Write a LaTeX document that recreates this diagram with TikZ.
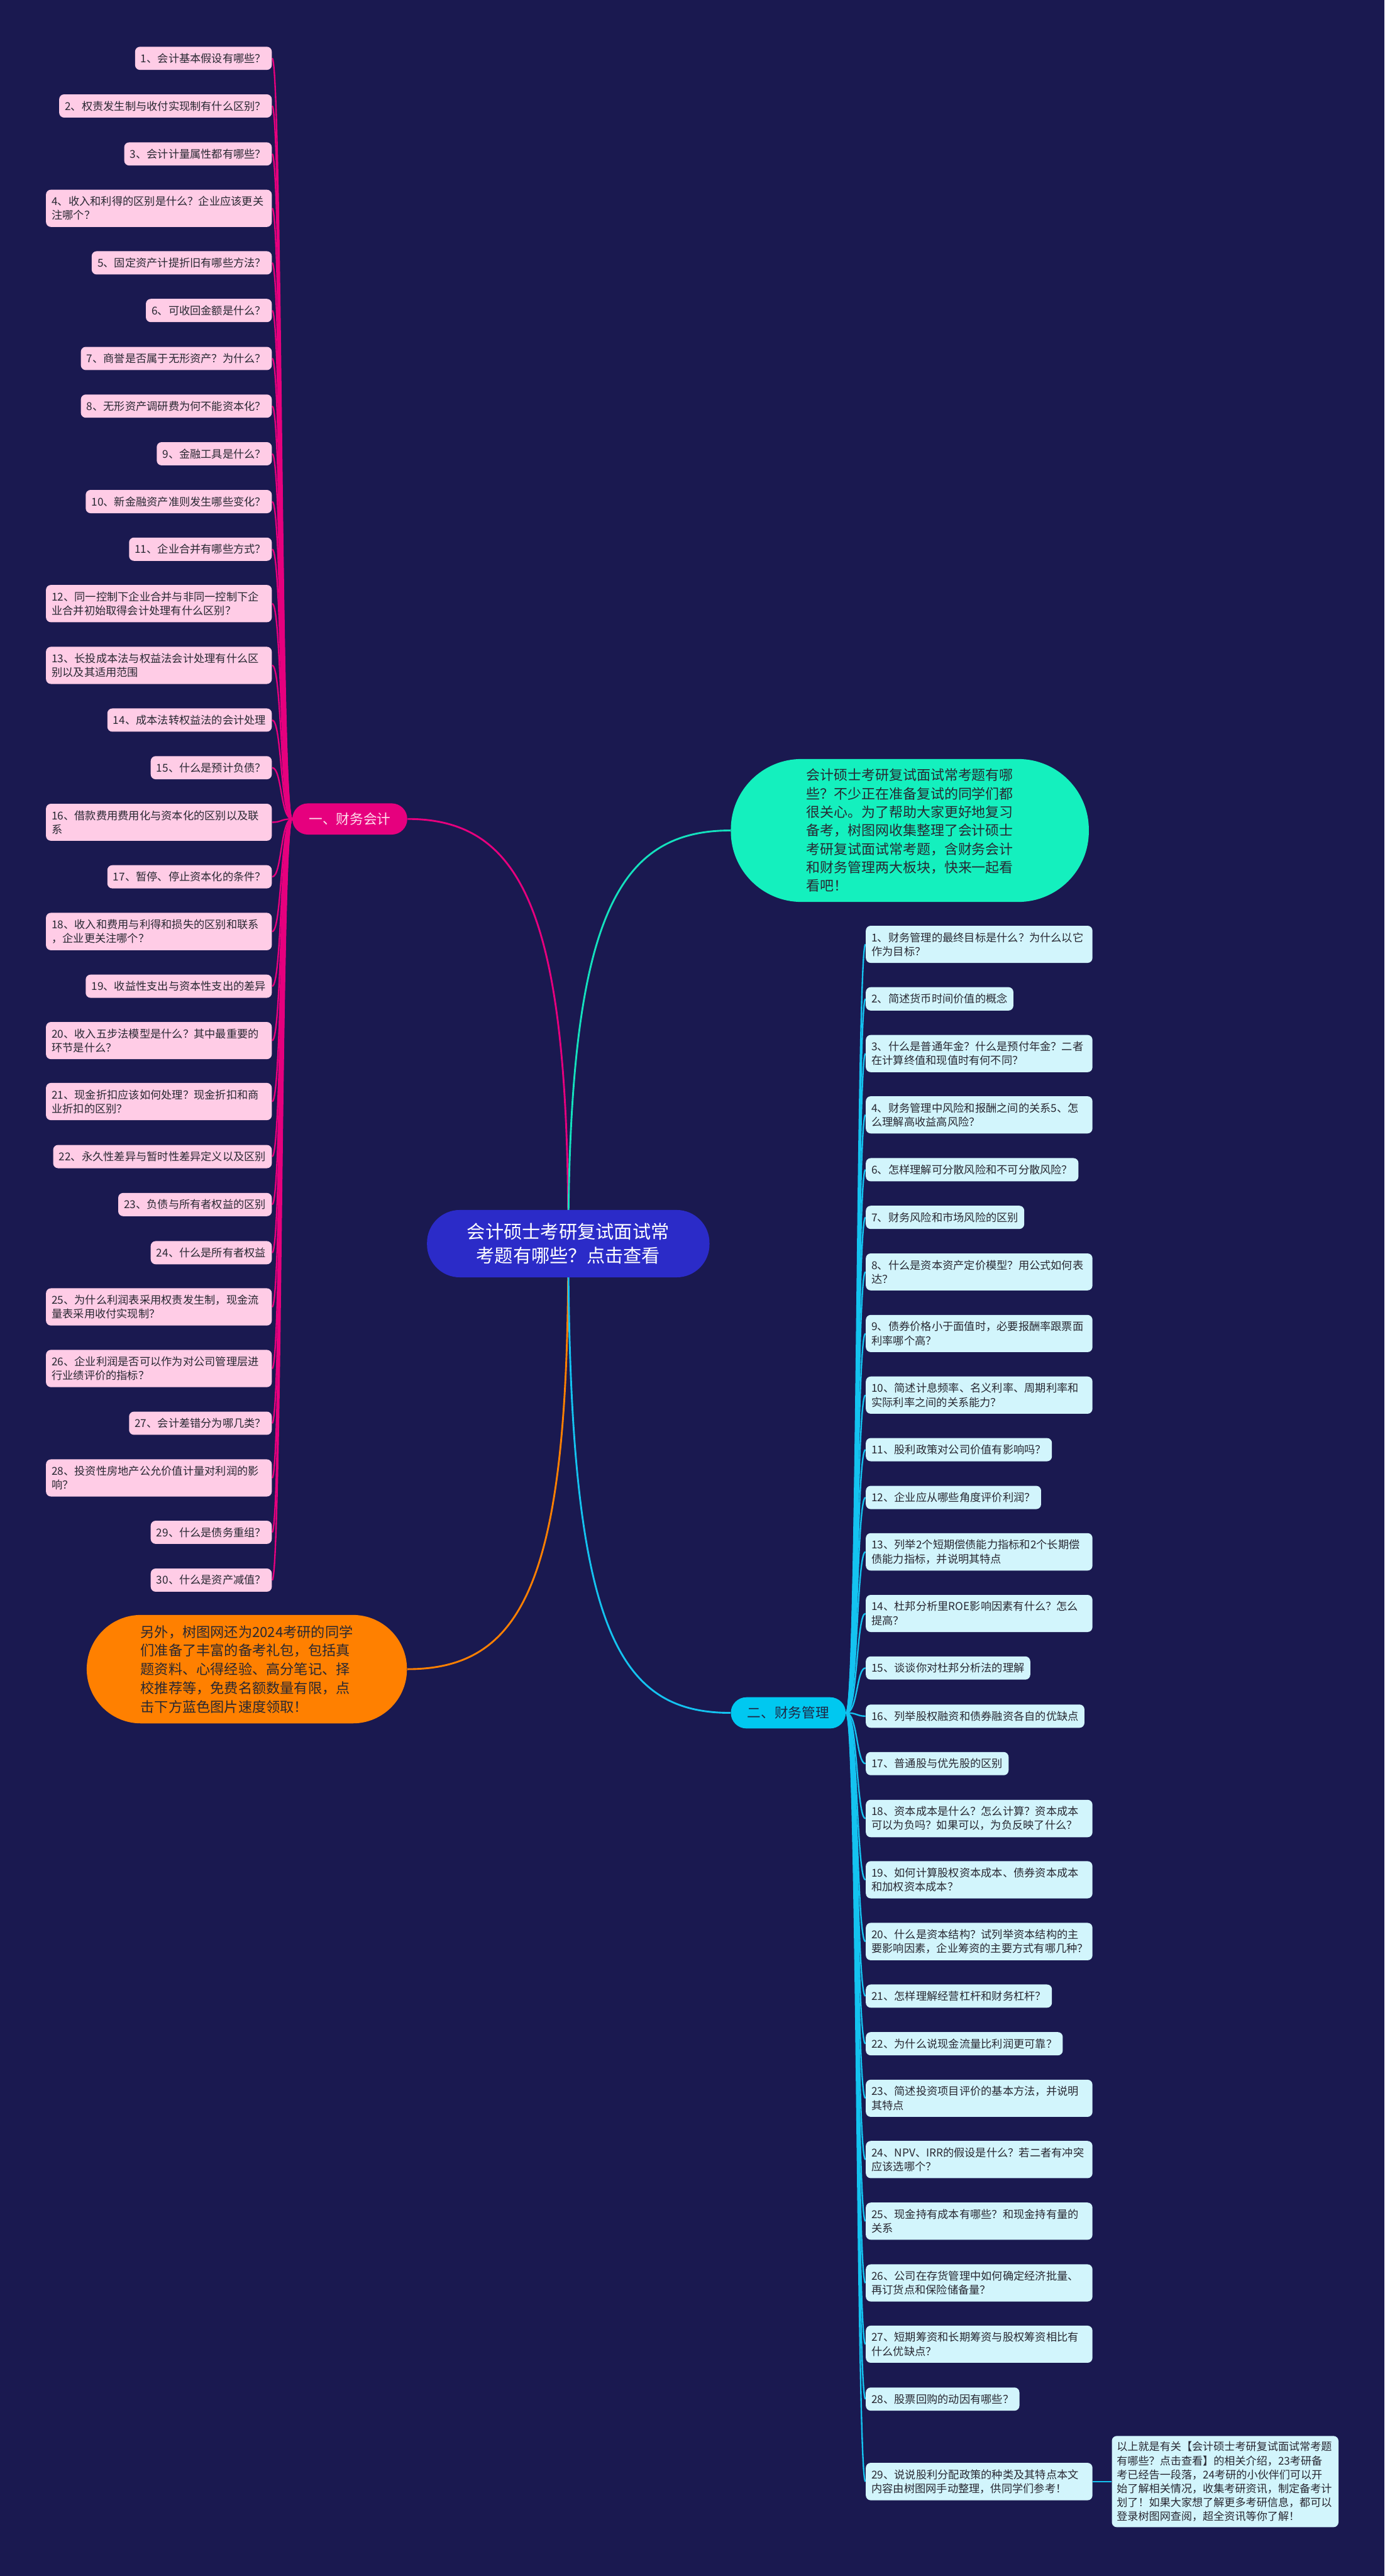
\documentclass[tikz,border=0pt]{standalone}
\usepackage{fontspec}
\setmainfont{Noto Sans CJK SC}
\definecolor{bgc}{RGB}{26,25,80}
\definecolor{pinkline}{RGB}{230,0,126}
\definecolor{pinkbox}{RGB}{255,204,230}
\definecolor{cyanline}{RGB}{20,195,240}
\definecolor{cyanfill}{RGB}{0,200,240}
\definecolor{cyanbox}{RGB}{210,245,252}
\definecolor{greenfill}{RGB}{20,240,190}
\definecolor{greenline}{RGB}{20,225,190}
\definecolor{orangefill}{RGB}{255,128,0}
\definecolor{centerfill}{RGB}{43,43,200}
\definecolor{itemtext}{RGB}{40,40,50}
\definecolor{darknavy}{RGB}{30,40,70}
\definecolor{lightpink}{RGB}{255,225,238}
\pgfdeclarelayer{edges}
\pgfsetlayers{edges,main}
\tikzset{
  litem/.style={fill=pinkbox, text=itemtext, rounded corners=3pt, inner xsep=3.5pt, inner ysep=4pt, font=\fontsize{6.6}{8.5}\selectfont, align=left, anchor=east},
  litemtwo/.style={litem, text width=130.5pt},
  ritem/.style={fill=cyanbox, text=itemtext, rounded corners=3pt, inner xsep=3.5pt, inner ysep=4pt, font=\fontsize{6.6}{8.5}\selectfont, align=left, anchor=west},
  ritemtwo/.style={ritem, text width=131pt},
  pinkedge/.style={draw=pinkline, line width=0.9pt},
  cyanedge/.style={draw=cyanline, line width=0.9pt},
  branchbox/.style={minimum width=70pt, minimum height=19pt, rounded corners=9.5pt, inner sep=0pt, font=\fontsize{8.3}{10}\selectfont},
}
\begin{document}
\begin{tikzpicture}[x=1pt,y=-1pt]
\useasboundingbox (0,0) rectangle (843,1568);
% central
\node[fill=centerfill, text=white, minimum width=172pt, minimum height=41pt, rounded corners=20pt, align=center, font=\fontsize{11.2}{14.3}\selectfont, inner sep=0pt] (c) at (346,757) {会计硕士考研复试面试常\\考题有哪些？点击查看};
% branches
\node[branchbox, fill=pinkline, text=lightpink] (b1) at (213,498.5) {一、财务会计};
\node[branchbox, fill=cyanfill, text=darknavy] (b2) at (480,1042.6) {二、财务管理};
% green intro
\node[fill=greenfill, text=itemtext, minimum width=218pt, minimum height=87pt, rounded corners=43pt, align=left, font=\fontsize{8.4}{11.25}\selectfont, inner sep=0pt] (g) at (554,505.5) {会计硕士考研复试面试常考题有哪\\些？不少正在准备复试的同学们都\\很关心。为了帮助大家更好地复习\\备考，树图网收集整理了会计硕士\\考研复试面试常考题，含财务会计\\和财务管理两大板块，快来一起看\\看吧！};
% orange
\node[fill=orangefill, text=itemtext, minimum width=195pt, minimum height=66pt, rounded corners=33pt, align=left, font=\fontsize{8.5}{11.4}\selectfont, inner sep=0pt] (o) at (150.3,1016) {另外，树图网还为2024考研的同学\\们准备了丰富的备考礼包，包括真\\题资料、心得经验、高分笔记、择\\校推荐等，免费名额数量有限，点\\击下方蓝色图片速度领取！};
% left items
\node[litem] (L1) at (165.7,35.5) {1、会计基本假设有哪些？};
\node[litem] (L2) at (165.7,64.5) {2、权责发生制与收付实现制有什么区别？};
\node[litem] (L3) at (165.7,93.7) {3、会计计量属性都有哪些？};
\node[litemtwo] (L4) at (165.7,126.8) {4、收入和利得的区别是什么？企业应该更关\\注哪个？};
\node[litem] (L5) at (165.7,160) {5、固定资产计提折旧有哪些方法？};
\node[litem] (L6) at (165.7,189) {6、可收回金额是什么？};
\node[litem] (L7) at (165.7,218.2) {7、商誉是否属于无形资产？为什么？};
\node[litem] (L8) at (165.7,247.2) {8、无形资产调研费为何不能资本化？};
\node[litem] (L9) at (165.7,276.2) {9、金融工具是什么？};
\node[litem] (L10) at (165.7,305.3) {10、新金融资产准则发生哪些变化？};
\node[litem] (L11) at (165.7,334.3) {11、企业合并有哪些方式？};
\node[litemtwo] (L12) at (165.7,367.4) {12、同一控制下企业合并与非同一控制下企\\业合并初始取得会计处理有什么区别？};
\node[litemtwo] (L13) at (165.7,405) {13、长投成本法与权益法会计处理有什么区\\别以及其适用范围};
\node[litem] (L14) at (165.7,438.3) {14、成本法转权益法的会计处理};
\node[litem] (L15) at (165.7,467.3) {15、什么是预计负债？};
\node[litemtwo] (L16) at (165.7,500.5) {16、借款费用费用化与资本化的区别以及联\\系};
\node[litem] (L17) at (165.7,533.7) {17、暂停、停止资本化的条件？};
\node[litemtwo] (L18) at (165.7,567) {18、收入和费用与利得和损失的区别和联系\\，企业更关注哪个？};
\node[litem] (L19) at (165.7,600.3) {19、收益性支出与资本性支出的差异};
\node[litemtwo] (L20) at (165.7,633.4) {20、收入五步法模型是什么？其中最重要的\\环节是什么？};
\node[litemtwo] (L21) at (165.7,670.5) {21、现金折扣应该如何处理？现金折扣和商\\业折扣的区别？};
\node[litem] (L22) at (165.7,704) {22、永久性差异与暂时性差异定义以及区别};
\node[litem] (L23) at (165.7,733.2) {23、负债与所有者权益的区别};
\node[litem] (L24) at (165.7,762.5) {24、什么是所有者权益};
\node[litemtwo] (L25) at (165.7,795.5) {25、为什么利润表采用权责发生制，现金流\\量表采用收付实现制？};
\node[litemtwo] (L26) at (165.7,833) {26、企业利润是否可以作为对公司管理层进\\行业绩评价的指标？};
\node[litem] (L27) at (165.7,866.3) {27、会计差错分为哪几类？};
\node[litemtwo] (L28) at (165.7,899.6) {28、投资性房地产公允价值计量对利润的影\\响？};
\node[litem] (L29) at (165.7,932.7) {29、什么是债务重组？};
\node[litem] (L30) at (165.7,961.8) {30、什么是资产减值？};
% right items
\node[ritemtwo] (R1) at (527,574.8) {1、财务管理的最终目标是什么？为什么以它\\作为目标？};
\node[ritem] (R2) at (527,608) {2、简述货币时间价值的概念};
\node[ritemtwo] (R3) at (527,641.3) {3、什么是普通年金？什么是预付年金？二者\\在计算终值和现值时有何不同？};
\node[ritemtwo] (R4) at (527,678.6) {4、财务管理中风险和报酬之间的关系5、怎\\么理解高收益高风险？};
\node[ritem] (R6) at (527,712) {6、怎样理解可分散风险和不可分散风险？};
\node[ritem] (R7) at (527,741) {7、财务风险和市场风险的区别};
\node[ritemtwo] (R8) at (527,774.2) {8、什么是资本资产定价模型？用公式如何表\\达？};
\node[ritemtwo] (R9) at (527,811.7) {9、债券价格小于面值时，必要报酬率跟票面\\利率哪个高？};
\node[ritemtwo] (R10) at (527,849.2) {10、简述计息频率、名义利率、周期利率和\\实际利率之间的关系能力？};
\node[ritem] (R11) at (527,882.4) {11、股利政策对公司价值有影响吗？};
\node[ritem] (R12) at (527,911.5) {12、企业应从哪些角度评价利润？};
\node[ritemtwo] (R13) at (527,944.6) {13、列举2个短期偿债能力指标和2个长期偿\\债能力指标，并说明其特点};
\node[ritemtwo] (R14) at (527,982.1) {14、杜邦分析里ROE影响因素有什么？怎么\\提高？};
\node[ritem] (R15) at (527,1015.3) {15、谈谈你对杜邦分析法的理解};
\node[ritem] (R16) at (527,1044.6) {16、列举股权融资和债券融资各自的优缺点};
\node[ritem] (R17) at (527,1073.5) {17、普通股与优先股的区别};
\node[ritemtwo] (R18) at (527,1106.9) {18、资本成本是什么？怎么计算？资本成本\\可以为负吗？如果可以，为负反映了什么？};
\node[ritemtwo] (R19) at (527,1144.2) {19、如何计算股权资本成本、债券资本成本\\和加权资本成本？};
\node[ritemtwo] (R20) at (527,1181.8) {20、什么是资本结构？试列举资本结构的主\\要影响因素，企业筹资的主要方式有哪几种？};
\node[ritem] (R21) at (527,1215) {21、怎样理解经营杠杆和财务杠杆？};
\node[ritem] (R22) at (527,1244) {22、为什么说现金流量比利润更可靠？};
\node[ritemtwo] (R23) at (527,1277.2) {23、简述投资项目评价的基本方法，并说明\\其特点};
\node[ritemtwo] (R24) at (527,1314.5) {24、NPV、IRR的假设是什么？若二者有冲突\\应该选哪个？};
\node[ritemtwo] (R25) at (527,1352) {25、现金持有成本有哪些？和现金持有量的\\关系};
\node[ritemtwo] (R26) at (527,1389.6) {26、公司在存货管理中如何确定经济批量、\\再订货点和保险储备量？};
\node[ritemtwo] (R27) at (527,1426.9) {27、短期筹资和长期筹资与股权筹资相比有\\什么优缺点？};
\node[ritem] (R28) at (527,1460.3) {28、股票回购的动因有哪些？};
\node[ritemtwo] (R29) at (527,1510.5) {29、说说股利分配政策的种类及其特点本文\\内容由树图网手动整理，供同学们参考！};
% closing note
\node[fill=cyanbox, text=itemtext, rounded corners=3pt, text width=132pt, inner xsep=3pt, inner ysep=3.5pt, align=left, font=\fontsize{6.55}{8.45}\selectfont] (n) at (746,1510.5) {以上就是有关【会计硕士考研复试面试常考题\\有哪些？点击查看】的相关介绍，23考研备\\考已经告一段落，24考研的小伙伴们可以开\\始了解相关情况，收集考研资讯，制定备考计\\划了！如果大家想了解更多考研信息，都可以\\登录树图网查阅，超全资讯等你了解！};
% edges
\begin{pgfonlayer}{edges}
\fill[bgc] (0,0) rectangle (843,1568);
\draw[pinkline, line width=1.1pt] (c.center) .. controls (346.5,560) and (320,498.5) .. (b1.east);
\draw[greenline, line width=1.1pt] (c.center) .. controls (346.5,560) and (375,505.5) .. (g.west);
\draw[orangefill, line width=1.1pt] (c.center) .. controls (346.5,960) and (320,1016) .. (o.east);
\draw[cyanline, line width=1.1pt] (c.center) .. controls (346.5,990) and (375,1042.6) .. (b2.west);
\foreach \i in {1,...,30} {
  \draw[pinkedge] (b1.west) .. controls +(-7,0) and +(6,0) .. (L\i.east);
}
\foreach \i in {1,2,3,4,6,7,...,29} {
  \draw[cyanedge] (b2.east) .. controls +(7,0) and +(-5.5,0) .. (R\i.west);
}
\draw[cyanedge] (R29.east) -- (n.west);
\end{pgfonlayer}
\end{tikzpicture}
\end{document}
